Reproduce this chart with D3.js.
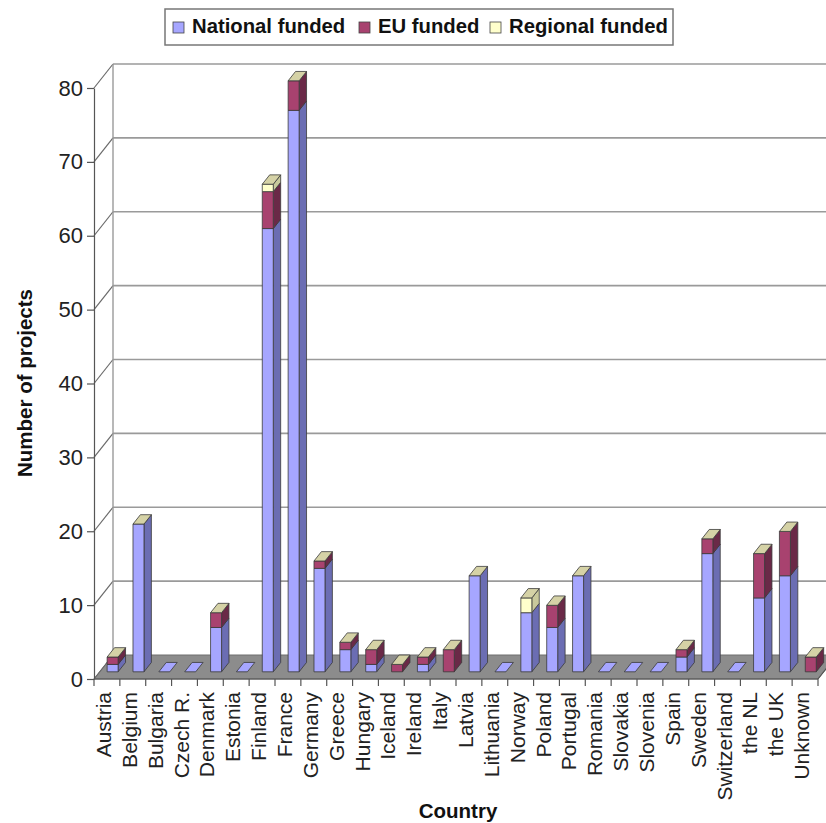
<!DOCTYPE html>
<html>
<head>
<meta charset="utf-8">
<script src="https://cdn.jsdelivr.net/npm/d3@7"></script>
<style>
  html, body { margin: 0; padding: 0; background: #fff; }
  svg { display: block; font-family: "Liberation Sans", Arial, sans-serif; }
</style>
</head>
<body>
<svg id="chart" width="826" height="823"></svg>
<script>
// Projects per country, split by funding source
const countries = ["Austria", "Belgium", "Bulgaria", "Czech R.", "Denmark", "Estonia", "Finland", "France",
  "Germany", "Greece", "Hungary", "Iceland", "Ireland", "Italy", "Latvia", "Lithuania", "Norway", "Poland",
  "Portugal", "Romania", "Slovakia", "Slovenia", "Spain", "Sweden", "Switzerland", "the NL", "the UK", "Unknown"];
const nationalFunded = [1, 20, 0, 0, 6, 0, 60, 76, 14, 3, 1, 0, 1, 0, 13, 0, 8, 6, 13, 0, 0, 0, 2, 16, 0, 10, 13, 0];
const euFunded       = [1, 0, 0, 0, 2, 0, 5, 4, 1, 1, 2, 1, 1, 3, 0, 0, 0, 3, 0, 0, 0, 0, 1, 2, 0, 6, 6, 2];
const regionalFunded = [0, 0, 0, 0, 0, 0, 1, 0, 0, 0, 0, 0, 0, 0, 0, 0, 2, 0, 0, 0, 0, 0, 0, 0, 0, 0, 0, 0];
const seriesNames = ["National funded", "EU funded", "Regional funded"];
const yTicks = [0, 10, 20, 30, 40, 50, 60, 70, 80];

const palette = {
  "National funded": { front: "#a6a6ff", side: "#6b6db3", top: "#c9c9ff" },
  "EU funded":       { front: "#a8426f", side: "#6a2947", top: "#c76f95" },
  "Regional funded": { front: "#ffffcc", side: "#c9c99c", top: "#d5d2a6" }
};

const svg = d3.select("#chart");

// 3-D projection: depth vector from front plane to back wall
const depth = { dx: 19, dy: -24 };
const barDepth0 = 0.30, barDepth1 = 0.69;   // bar position within the floor depth

const x = d3.scaleBand().domain(countries).range([94, 818]).paddingInner(0.575).paddingOuter(0.2875);
const xEdges = d3.scaleLinear().domain([0, countries.length]).range([94, 818]);
const y = d3.scaleLinear().domain([0, 80]).range([679, 88]);

const rows = countries.map((c, i) => ({
  country: c,
  "National funded": nationalFunded[i],
  "EU funded": euFunded[i],
  "Regional funded": regionalFunded[i]
}));
const stacked = d3.stack().keys(seriesNames)(rows);

const line = d3.line();

// floor
const x0 = xEdges(0), x1 = xEdges(countries.length), yz = y(0);
svg.append("path")
  .attr("d", line([[x0, yz], [x1, yz], [x1 + depth.dx, yz + depth.dy], [x0 + depth.dx, yz + depth.dy]]) + "Z")
  .attr("fill", "#8c8c8c").attr("stroke", "#6e6e6e").attr("stroke-width", 1);

// back wall gridlines and the diagonal lines on the left wall
const grid = svg.append("g");
yTicks.forEach(t => {
  if (t > 0) {
    grid.append("line")
      .attr("x1", x0 + depth.dx).attr("x2", 826)
      .attr("y1", y(t) + depth.dy).attr("y2", y(t) + depth.dy)
      .attr("stroke", "#9a9a9a").attr("stroke-width", 1.6);
  }
  grid.append("line")
    .attr("x1", x0).attr("y1", y(t))
    .attr("x2", x0 + depth.dx).attr("y2", y(t) + depth.dy)
    .attr("stroke", "#6a6a6a").attr("stroke-width", 1.2);
});
// back wall left edge
grid.append("line")
  .attr("x1", x0 + depth.dx).attr("x2", x0 + depth.dx)
  .attr("y1", y(0) + depth.dy).attr("y2", y(80) + depth.dy)
  .attr("stroke", "#9a9a9a").attr("stroke-width", 1.4);

// bars
const fx = barDepth0 * depth.dx, fy = barDepth0 * depth.dy;   // front-face shift
const sx = (barDepth1 - barDepth0) * depth.dx, sy = (barDepth1 - barDepth0) * depth.dy;  // side depth
const bw = x.bandwidth();
const bars = svg.append("g").attr("stroke", "#3a3a3a").attr("stroke-width", 0.8).attr("stroke-linejoin", "round");

countries.forEach((c, i) => {
  const left = x(c) + fx;
  const right = left + bw;
  let topY = null;
  stacked.forEach(s => {
    const [v0, v1] = s[i];
    if (v1 - v0 <= 0) return;
    const col = palette[s.key];
    const yb = y(v0) + fy, yt = y(v1) + fy;
    bars.append("path")
      .attr("d", line([[right, yb], [right + sx, yb + sy], [right + sx, yt + sy], [right, yt]]) + "Z")
      .attr("fill", col.side);
    bars.append("rect")
      .attr("x", left).attr("y", yt).attr("width", bw).attr("height", yb - yt)
      .attr("fill", col.front);
    topY = yt;
  });
  const total = nationalFunded[i] + euFunded[i] + regionalFunded[i];
  const yt = total > 0 ? topY : y(0) + fy;
  bars.append("path")
    .attr("d", line([[left, yt], [right, yt], [right + sx, yt + sy], [left + sx, yt + sy]]) + "Z")
    .attr("fill", total > 0 ? palette["Regional funded"].top : palette["National funded"].front);
});

// front value axis
const yAxis = d3.axisLeft(y).tickValues(yTicks).tickSize(7).tickPadding(4).tickSizeOuter(0);
const ya = svg.append("g").attr("transform", `translate(${x0},0)`).call(yAxis);
ya.select(".domain").attr("stroke", "#555").attr("stroke-width", 1.2);
ya.selectAll(".tick line").attr("stroke", "#555").attr("stroke-width", 1.2);
ya.selectAll(".tick text").attr("font-size", 22).attr("fill", "#222")
  .attr("font-family", "'Liberation Sans', Arial, sans-serif");

// category axis
const xa = svg.append("g");
xa.append("line").attr("x1", x0).attr("x2", x1).attr("y1", yz).attr("y2", yz)
  .attr("stroke", "#555").attr("stroke-width", 1.2);
xa.append("line").attr("x1", x1).attr("y1", yz).attr("x2", x1 + depth.dx).attr("y2", yz + depth.dy)
  .attr("stroke", "#555").attr("stroke-width", 1.2);
d3.range(countries.length + 1).forEach(k => {
  xa.append("line").attr("x1", xEdges(k)).attr("x2", xEdges(k)).attr("y1", yz).attr("y2", yz + 7)
    .attr("stroke", "#555").attr("stroke-width", 1.2);
});
countries.forEach(c => {
  const cx = x(c) + bw / 2 + 4;
  xa.append("text")
    .attr("transform", `translate(${cx},692) rotate(-90)`)
    .attr("text-anchor", "end")
    .attr("font-size", 21).attr("fill", "#222")
    .text(c);
});

// axis titles
svg.append("text")
  .attr("transform", "translate(32,383) rotate(-90)")
  .attr("text-anchor", "middle").attr("font-weight", "bold").attr("font-size", 20.5).attr("fill", "#111")
  .text("Number of projects");
svg.append("text")
  .attr("x", 458).attr("y", 818)
  .attr("text-anchor", "middle").attr("font-weight", "bold").attr("font-size", 20.5).attr("fill", "#111")
  .text("Country");

// legend
const legend = svg.append("g");
legend.append("rect").attr("x", 165).attr("y", 9).attr("width", 508).attr("height", 36)
  .attr("fill", "#fff").attr("stroke", "#777").attr("stroke-width", 1.5);
const legendX = [173, 359, 490];
seriesNames.forEach((name, k) => {
  legend.append("rect").attr("x", legendX[k]).attr("y", 22).attr("width", 11).attr("height", 11)
    .attr("fill", palette[name].front).attr("stroke", "#444").attr("stroke-width", 0.8);
  legend.append("text").attr("x", legendX[k] + 19).attr("y", 33)
    .attr("font-weight", "bold").attr("font-size", 20.3).attr("fill", "#111")
    .text(name);
});
</script>
</body>
</html>
